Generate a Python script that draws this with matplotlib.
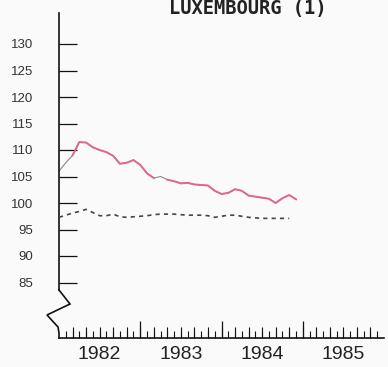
import numpy as np
import matplotlib
matplotlib.use("Agg")
import matplotlib.pyplot as plt
from matplotlib.ticker import FixedLocator, NullFormatter

# monthly index values, Jan 1982 .. Dec 1984
start_year = 1982
red_series = [106.0, 107.6, 109.0, 111.5, 111.4, 110.5, 110.0, 109.6, 108.9, 107.4,
              107.6, 108.1, 107.2, 105.6, 104.7, 105.0, 104.4, 104.1, 103.7, 103.8,
              103.5, 103.4, 103.3, 102.3, 101.7, 101.9, 102.6, 102.3, 101.4, 101.2,
              101.0, 100.8, 100.0, 100.9, 101.5, 100.7]
dashed_series = [97.3, 97.7, 98.1, 98.4, 98.8, 98.2, 97.6, 97.6, 97.9, 97.4,
                 97.3, 97.4, 97.5, 97.6, 97.8, 97.9, 97.9, 97.9, 97.8, 97.7,
                 97.7, 97.7, 97.6, 97.3, 97.5, 97.7, 97.7, 97.5, 97.3, 97.2,
                 97.1, 97.1, 97.1, 97.1, 97.1]
pen_gaps = [1, 15]          # months where the red pen skipped
y_ticks = [85, 90, 95, 100, 105, 110, 115, 120, 125, 130]
year_labels = ["1982", "1983", "1984", "1985"]
title = "LUXEMBOURG (1)"

W, H = 388, 367
fig = plt.figure(figsize=(W / 100, H / 100), dpi=100)
fig.patch.set_facecolor("#fafafa")

ax_l, ax_r, ax_t, ax_b = 59, 384, 13, 338
ax = fig.add_axes([ax_l / W, (H - ax_b) / H, (ax_r - ax_l) / W, (ax_b - ax_t) / H])
ax.set_facecolor("none")

px_per_unit = 5.3
y_lo = 100 - (ax_b - 203) / px_per_unit
y_hi = 100 + (203 - ax_t) / px_per_unit
ax.set_ylim(y_lo, y_hi)
ax.set_xlim(1982, 1986)

x_red = start_year + np.arange(len(red_series)) / 12
x_dash = start_year + np.arange(len(dashed_series)) / 12

red = np.array(red_series, dtype=float)
red_pen = red.copy()
red_pen[pen_gaps] = np.nan

ax.plot(x_red, red, color="#8a8a8a", lw=0.8, zorder=2)
ax.plot(x_red, red_pen, color="#e0668a", lw=1.4, zorder=3,
        solid_joinstyle="round")
ax.plot(x_dash, dashed_series, color="#444444", lw=1.2,
        dashes=(2.5, 2.5), zorder=3)

# axes frame: left spine broken near the bottom
for s in ("top", "right"):
    ax.spines[s].set_visible(False)
for s in ("left", "bottom"):
    ax.spines[s].set_linewidth(1.2)
    ax.spines[s].set_color("#111111")
y_break = 100 - (290 - 203) / px_per_unit
ax.spines["left"].set_bounds(y_break, y_hi)

zig_px = [(59, 290), (70, 304), (47, 315), (58, 327), (59, 333), (59, 338)]
zx = [(p[0] - ax_l) / (ax_r - ax_l) for p in zig_px]
zy = [(ax_b - p[1]) / (ax_b - ax_t) for p in zig_px]
ax.plot(zx, zy, transform=ax.transAxes, color="#111111", lw=1.2,
        clip_on=False, solid_joinstyle="miter")

# y ticks point inward
ax.set_yticks(y_ticks)
ax.set_yticklabels([str(v) for v in y_ticks], fontfamily="Liberation Sans",
                   fontsize=9.5, color="#333333")
ax.tick_params(axis="y", direction="in", length=13, width=0.9, pad=18.5,
               color="#111111")

# x ticks: years, every second month, every month
ax.xaxis.set_major_locator(FixedLocator([1983, 1984, 1985]))
ax.xaxis.set_minor_locator(FixedLocator(1982 + np.arange(1, 48) / 12))
ax.xaxis.set_major_formatter(NullFormatter())
ax.tick_params(axis="x", which="major", direction="in", length=12, width=0.9,
               color="#111111")
ax.tick_params(axis="x", which="minor", direction="in", length=4.8, width=0.8,
               color="#111111")

sec = ax.secondary_xaxis("bottom")
sec.set_xticks(1982 + np.arange(2, 48, 2) / 12)
sec.set_xticklabels([])
sec.tick_params(direction="in", length=8, width=0.8, color="#111111")
sec.spines["bottom"].set_visible(False)

lab = ax.secondary_xaxis("bottom")
lab.set_xticks([int(y) + 0.5 for y in year_labels])
lab.set_xticklabels(year_labels, fontfamily="Liberation Sans", fontsize=14,
                    color="#222222")
lab.tick_params(length=0, pad=6)
lab.spines["bottom"].set_visible(False)

fig.text(248 / W, (H - 14) / H, title, ha="center", va="baseline",
         fontfamily="DejaVu Sans Mono", fontweight="bold", fontsize=13.5,
         color="#222222")

fig.savefig("out.png", dpi=100, facecolor=fig.get_facecolor())
